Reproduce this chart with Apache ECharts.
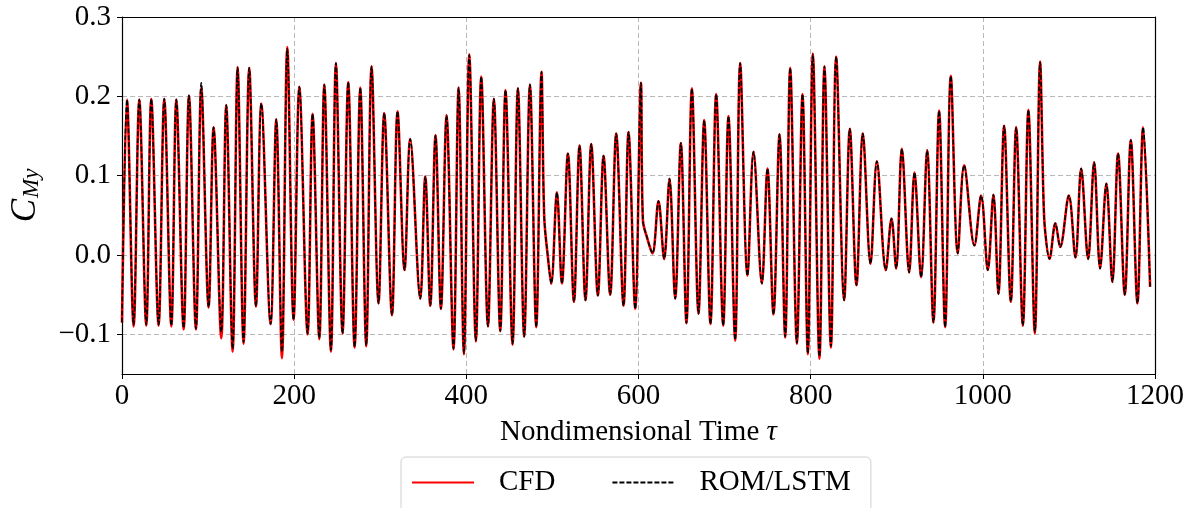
<!DOCTYPE html>
<html>
<head>
<meta charset="utf-8">
<script src="https://cdn.jsdelivr.net/npm/echarts@6/dist/echarts.min.js"></script>
<style>
  html, body { margin: 0; padding: 0; background: #fff; }
  #chart { width: 1187px; height: 508px; }
</style>
</head>
<body>
<div id="chart"></div>
<script>
// 横轴：无量纲时间 τ（峰值/谷值点，从图上读出）
var timeValues = [
  0, 5.8, 13.5, 20.1, 28.2, 34.0, 42.5, 49.1, 57.3, 63.1, 71.6, 77.8, 85.9, 92.1, 100.6, 106.4, 115.3, 121.1, 128.5, 134.3, 141.2, 147.8, 155.6, 161.8, 172.6, 179.2, 185.8, 192.0, 199.3,
  206.0, 215.6, 221.4, 229.2, 235.0, 242.7, 248.5, 256.2, 262.8, 270.2, 276.8, 283.7, 289.9, 298.0, 304.6, 313.6, 320.1, 328.2, 334.8, 346.5, 352.3, 358.1, 364.2, 370.5, 377.0, 385.1, 391.0, 397.2, 403.4,
  411.1, 417.3, 425.1, 432.0, 439.4, 445.5, 453.7, 459.9, 467.2, 473.9, 481.2, 487.3, 490.5, 494.8, 498.6, 505.2, 511.0, 518.0, 525.0, 531.5, 538.4, 545.1, 552.8, 559.4, 567.1, 574.1, 582.6, 588.4, 596.2, 602.8, 605.1, 609.8,
  616.2, 623.2, 629.8, 636.0, 642.6, 649.2, 655.7, 662.0, 669.7, 676.3, 683.6, 690.2, 698.4, 704.5, 712.3, 718.1, 726.6, 733.6, 743.3, 749.8, 756.8, 763.8, 770.4, 776.2, 784.0, 790.5, 796.7, 802.5,
  810.2, 816.0, 823.5, 829.6, 838.9, 845.5, 853.2, 860.6, 869.5, 876.9, 887.3, 893.9, 899.3, 905.9, 914.4, 920.6, 928.3, 935.3, 942.6, 949.2, 956.2, 962.8, 970.9, 978.3, 990.2, 998.0, 1005.8, 1012.3,
  1018.1, 1024.7, 1032.5, 1038.7, 1046.5, 1052.9, 1060.4, 1066.5, 1070.4, 1072.3, 1077.4, 1084.3, 1089.8, 1099.9, 1107.6, 1114.2, 1122.3, 1129.3, 1136.2, 1143.5, 1150.5, 1157.1, 1164.9, 1171.9, 1179.6, 1186.2, 1194.3
]

// CFD 结果
var cfdValues = [
  -0.085, 0.196, -0.090, 0.196, -0.089, 0.197, -0.089, 0.197, -0.090, 0.196, -0.094, 0.201, -0.094, 0.211, -0.066, 0.161, -0.105, 0.189, -0.122, 0.237, -0.112, 0.236, -0.065, 0.191, -0.087, 0.171, -0.130, 0.262, -0.082,
  0.212, -0.100, 0.178, -0.106, 0.215, -0.122, 0.242, -0.099, 0.218, -0.117, 0.211, -0.115, 0.238, -0.061, 0.179, -0.076, 0.181, -0.019, 0.146, -0.055, 0.099, -0.064, 0.151, -0.068, 0.176, -0.119, 0.211, -0.125, 0.253,
  -0.109, 0.225, -0.090, 0.197, -0.096, 0.208, -0.113, 0.210, -0.103, 0.215, -0.091, 0.231, 0.048, -0.003, -0.036, 0.079, -0.036, 0.128, -0.059, 0.138, -0.057, 0.140, -0.051, 0.125, -0.050, 0.153, -0.064, 0.155, -0.068, 0.217, 0.044, 0.0225,
  0.002, 0.068, -0.005, 0.096, -0.055, 0.141, -0.086, 0.210, -0.074, 0.170, -0.087, 0.203, -0.089, 0.175, -0.108, 0.242, -0.026, 0.130, -0.036, 0.109, -0.075, 0.152, -0.104, 0.236, -0.112, 0.203, -0.125, 0.254,
  -0.131, 0.238, -0.117, 0.250, -0.057, 0.159, -0.038, 0.153, -0.011, 0.118, -0.019, 0.046, -0.017, 0.134, -0.022, 0.104, -0.028, 0.132, -0.085, 0.182, -0.091, 0.226, 0.002, 0.113, 0.012, 0.075, -0.019, 0.076,
  -0.049, 0.163, -0.059, 0.161, -0.089, 0.183, -0.099, 0.244, 0.073, 0.031, -0.005, 0.040, 0.010, 0.075, -0.003, 0.109, -0.005, 0.117, -0.017, 0.090, -0.034, 0.128, -0.050, 0.145, -0.061, 0.161, -0.040
]

// ROM/LSTM 预测（几乎与 CFD 重合）
var romValues = [
  -0.085, 0.196, -0.088, 0.196, -0.088, 0.197, -0.088, 0.197, -0.089, 0.196, -0.092, 0.201, -0.093, 0.217, -0.066, 0.161, -0.097, 0.189, -0.118, 0.236, -0.110, 0.236, -0.065, 0.191, -0.087, 0.171, -0.122, 0.260, -0.082,
  0.212, -0.099, 0.178, -0.105, 0.215, -0.120, 0.242, -0.099, 0.218, -0.116, 0.211, -0.114, 0.238, -0.061, 0.179, -0.076, 0.181, -0.019, 0.146, -0.055, 0.099, -0.064, 0.151, -0.068, 0.176, -0.118, 0.211, -0.124, 0.252,
  -0.108, 0.225, -0.090, 0.197, -0.096, 0.208, -0.112, 0.210, -0.103, 0.215, -0.091, 0.231, 0.048, -0.003, -0.036, 0.079, -0.036, 0.128, -0.059, 0.138, -0.057, 0.140, -0.051, 0.125, -0.050, 0.153, -0.064, 0.155, -0.068, 0.217, 0.044, 0.0225,
  0.002, 0.068, -0.005, 0.096, -0.055, 0.141, -0.086, 0.210, -0.074, 0.170, -0.087, 0.203, -0.089, 0.175, -0.107, 0.242, -0.026, 0.130, -0.036, 0.109, -0.075, 0.152, -0.103, 0.236, -0.111, 0.203, -0.124, 0.253,
  -0.128, 0.238, -0.115, 0.250, -0.057, 0.159, -0.038, 0.153, -0.011, 0.118, -0.019, 0.046, -0.017, 0.134, -0.022, 0.104, -0.028, 0.132, -0.085, 0.182, -0.091, 0.226, 0.002, 0.113, 0.012, 0.075, -0.019, 0.076,
  -0.049, 0.163, -0.059, 0.161, -0.089, 0.183, -0.097, 0.243, 0.073, 0.031, -0.005, 0.040, 0.010, 0.075, -0.003, 0.109, -0.005, 0.117, -0.017, 0.090, -0.034, 0.128, -0.050, 0.145, -0.061, 0.161, -0.040
]

var yTickLabels = [-0.1, 0.0, 0.1, 0.2, 0.3]
var xTickLabels = [0, 200, 400, 600, 800, 1000, 1200]

var fontFamily = '"Liberation Serif", "DejaVu Serif", serif'
var fontSize = 29

function toPairs(xs, ys) {
  var out = []
  for (var i = 0; i < xs.length; i++) out.push([xs[i], ys[i]])
  return out
}

var chartInstance = echarts.init(document.getElementById('chart'))

var frameLine = { show: true, onZero: false, lineStyle: { color: '#000', width: 1.2 } }
var gridDash = { show: true, lineStyle: { color: '#b0b0b0', width: 0.9, type: [5, 3] } }

var option = {
  animation: false,
  backgroundColor: '#fff',
  grid: {
    left: 122,
    right: 32,
    top: 17,
    bottom: 134,
    outerBoundsMode: 'none',
  },
  legend: {
    left: 401,
    top: 457,
    padding: [11, 20, 30, 10],
    itemWidth: 62,
    itemHeight: 14,
    itemGap: 56,
    borderColor: '#d0d0d0',
    borderWidth: 1,
    borderRadius: 5,
    itemStyle: { opacity: 0 },
    textStyle: {
      fontFamily: fontFamily,
      fontSize: fontSize,
      color: '#000',
      padding: [0, 0, 0, 20],
    },
    data: ['CFD', 'ROM/LSTM'],
  },
  xAxis: [
    {
      type: 'value',
      min: 0,
      max: 1200,
      interval: 200,
      name: 'Nondimensional Time {t|τ}',
      nameLocation: 'middle',
      nameGap: 44,
      nameTextStyle: {
        fontFamily: fontFamily,
        fontSize: fontSize,
        color: '#000',
        rich: { t: { fontFamily: fontFamily, fontStyle: 'italic', fontSize: fontSize, color: '#000' } },
      },
      axisLine: frameLine,
      axisTick: { show: true, inside: false, length: 5, lineStyle: { color: '#000', width: 1 } },
      axisLabel: {
        fontFamily: fontFamily,
        fontSize: fontSize,
        color: '#000',
        margin: 8,
        formatter: function (v) {
          return xTickLabels.indexOf(Math.round(v)) >= 0 ? String(Math.round(v)) : ''
        },
      },
      splitLine: gridDash,
    },
    {
      // 上边框
      type: 'value',
      position: 'top',
      min: 0,
      max: 1200,
      axisLine: frameLine,
      axisTick: { show: false },
      axisLabel: { show: false },
      splitLine: { show: false },
    },
  ],
  yAxis: [
    {
      type: 'value',
      min: -0.15,
      max: 0.3,
      splitNumber: 5,
      name: '{c|C}{s|My}',
      nameLocation: 'middle',
      nameRotate: 90,
      nameGap: 73,
      nameTextStyle: {
        rich: {
          c: { fontFamily: fontFamily, fontStyle: 'italic', fontSize: 35, color: '#000', lineHeight: 44, verticalAlign: 'middle' },
          s: { fontFamily: fontFamily, fontStyle: 'italic', fontSize: 23, color: '#000', lineHeight: 44, verticalAlign: 'bottom', padding: [0, 0, 4, 1] },
        },
      },
      axisLine: frameLine,
      axisTick: { show: true, inside: false, length: 5, lineStyle: { color: '#000', width: 1 } },
      axisLabel: {
        fontFamily: fontFamily,
        fontSize: fontSize,
        color: '#000',
        margin: 11,
        showMinLabel: false,
        formatter: function (v) {
          var hit = yTickLabels.filter(function (t) { return Math.abs(t - v) < 1e-6 })
          if (!hit.length) return ''
          var t = hit[0]
          return (t < 0 ? '\u2212' : '') + Math.abs(t).toFixed(1)
        },
      },
      splitLine: gridDash,
    },
    {
      // 右边框
      type: 'value',
      position: 'right',
      min: -0.15,
      max: 0.3,
      axisLine: frameLine,
      axisTick: { show: false },
      axisLabel: { show: false },
      splitLine: { show: false },
    },
  ],
  series: [
    {
      name: 'CFD',
      type: 'line',
      data: toPairs(timeValues, cfdValues),
      smooth: 0.35,
      symbol: 'none',
      lineStyle: { color: '#ff0000', width: 2.6 },
      itemStyle: { color: '#ff0000' },
      z: 2,
    },
    {
      name: 'ROM/LSTM',
      type: 'line',
      data: toPairs(timeValues, romValues),
      smooth: 0.35,
      symbol: 'none',
      lineStyle: { color: '#000', width: 1.6, type: [5, 2] },
      itemStyle: { color: '#000' },
      z: 3,
    },
  ],
}

chartInstance.setOption(option)
</script>
</body>
</html>
